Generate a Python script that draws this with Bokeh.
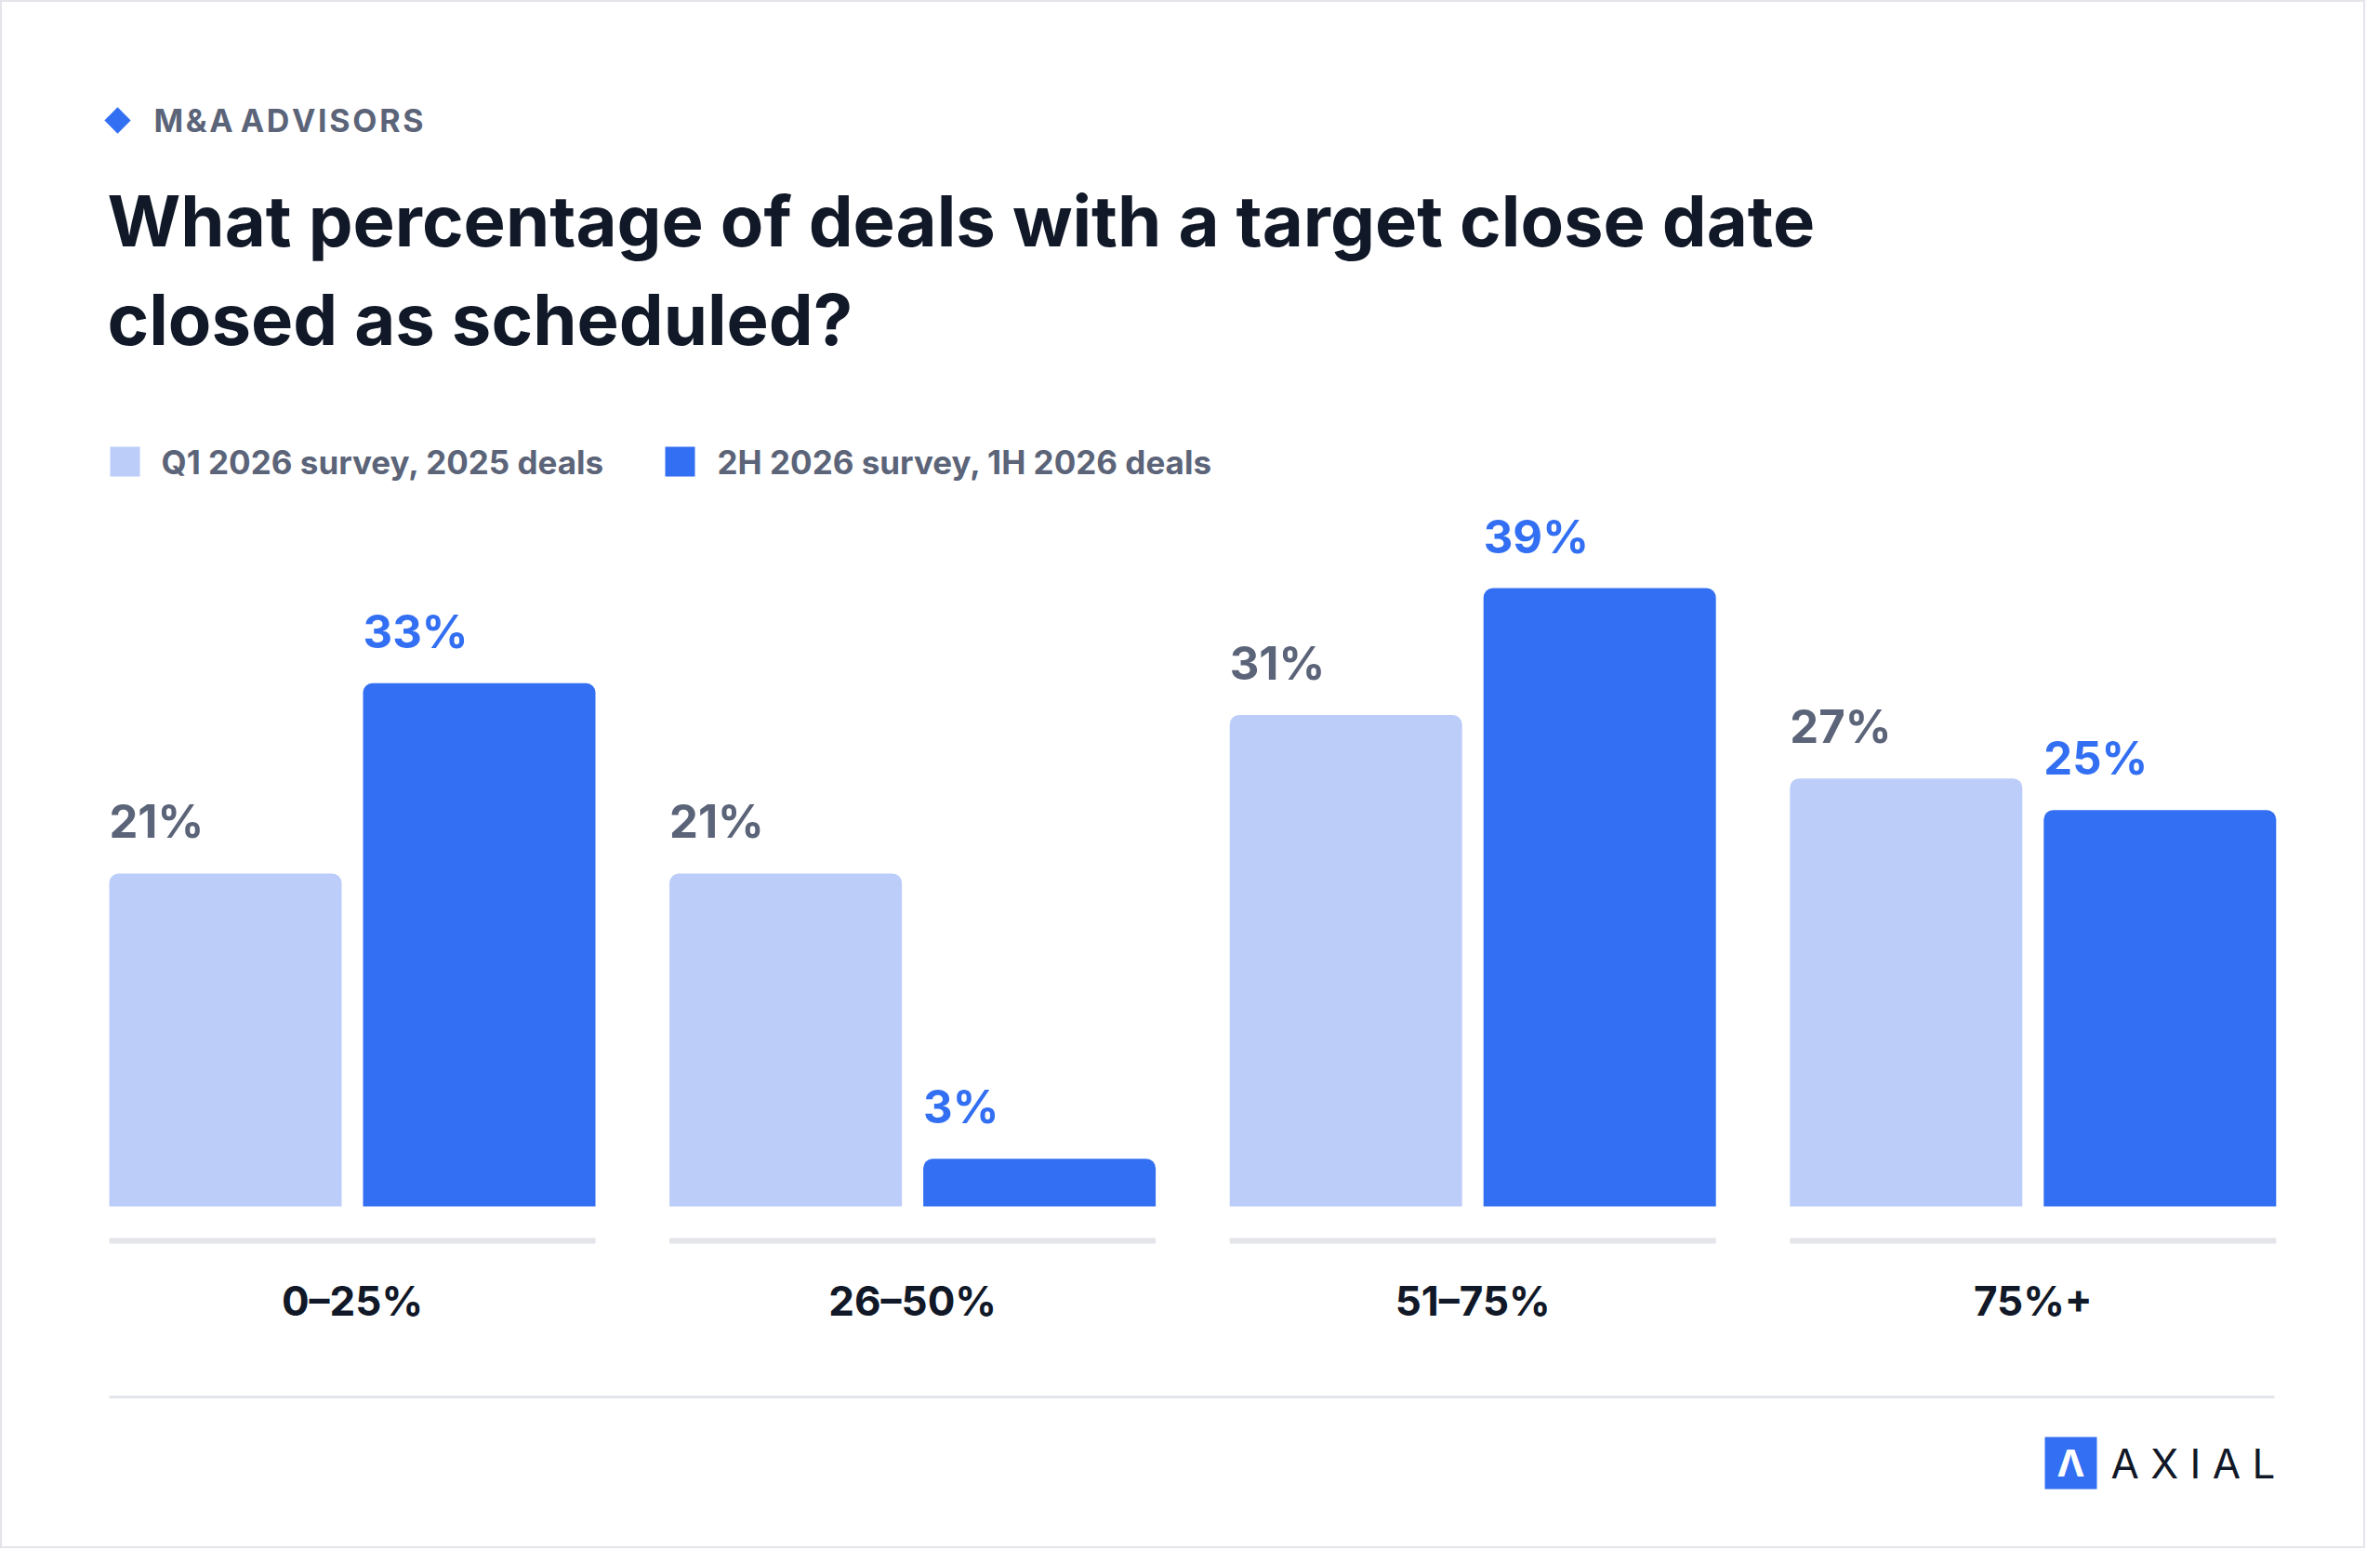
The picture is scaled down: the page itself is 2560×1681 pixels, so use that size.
from bokeh.plotting import figure
from bokeh.models import Range1d, ColumnDataSource
from bokeh.core.properties import value
from bokeh.embed import file_html
from bokeh.resources import INLINE
import math

categories = ["0–25%", "26–50%", "51–75%", "75%+"]
q1_2026 = [21, 21, 31, 27]
h2_2026 = [33, 3, 39, 25]
series_names = ["Q1 2026 survey, 2025 deals", "2H 2026 survey, 1H 2026 deals"]

W, H = 2544, 1665
PX = 17.05
base_from_bottom = 368
y0 = -base_from_bottom / PX
p = figure(width=W, height=H, output_backend="svg", toolbar_location=None,
           x_range=Range1d(0, W), y_range=Range1d(y0, y0 + H / PX),
           min_border=0, border_fill_color="white", background_fill_color="white")
p.axis.visible = False
p.grid.visible = False
p.outline_line_color = "#e3e5ea"
p.outline_line_width = 3

LIGHT, DARK = "#bccdf9", "#336ff2"
GREY, INK = "#5b6478", "#111827"
F = value("Inter")

def ty(ref_y):
    return (1297 - ref_y) / PX

bw = 250
step = 602.6
left0 = 117
x1, x2, gl, gr = [], [], [], []
for i in range(len(categories)):
    L = left0 + i * step
    x1.append(L + bw / 2); x2.append(L + bw + 23 + bw / 2)
    gl.append(L); gr.append(L + 523)

for xs, vals, col, lab_col in [(x1, q1_2026, LIGHT, GREY), (x2, h2_2026, DARK, DARK)]:
    src = ColumnDataSource(dict(x=xs, top=vals, lx=[x - bw / 2 for x in xs],
                                lab=[f"{v}%" for v in vals]))
    p.vbar(x="x", top="top", bottom=0, width=bw, source=src, fill_color=col,
           line_color=None, border_radius=(10, 10, 0, 0))
    p.text(x="lx", y="top", text="lab", source=src, text_color=lab_col,
           text_font=F, text_font_size="49px", text_font_style="bold",
           text_baseline="bottom", y_offset=-26)

p.segment(x0=gl, x1=gr, y0=[ty(1334)] * 4, y1=[ty(1334)] * 4, line_color="#e3e5ea", line_width=6)
p.text(x=[(a + b) / 2 for a, b in zip(gl, gr)], y=[ty(1398)] * 4, text=categories,
       text_color=INK, text_font=F, text_font_size="44px", text_font_style="bold",
       text_align="center", text_baseline="middle")
p.segment(x0=[117], x1=[2446], y0=[ty(1502)], y1=[ty(1502)], line_color="#e3e5ea", line_width=3)

# header
p.scatter(x=[126], y=[ty(129)], marker="square", size=20, angle=math.pi / 4,
          fill_color=DARK, line_color=None)
p.text(x=[165], y=[ty(129)], text=["M\u200aA\u200aA\u200aD".replace("M\u200aA\u200aA\u200aD", "M\u200a&\u200aA\u2009\u200aA\u200aD\u200aV\u200aI\u200aS\u200aO\u200aR\u200aS")],
       text_color=GREY, text_font=F,
       text_font_size="34px", text_font_style="bold", text_baseline="middle")
p.text(x=[115, 115], y=[ty(236), ty(342)],
       text=["What percentage of deals with a target close date", "closed as scheduled?"],
       text_color=INK, text_font=F, text_font_size="76px", text_font_style="bold",
       text_baseline="middle")

# legend
p.scatter(x=[134, 731], y=[ty(496)] * 2, marker="square", size=32,
          fill_color=[LIGHT, DARK], line_color=None)
p.text(x=[173, 771], y=[ty(496)] * 2, text=series_names, text_color=GREY, text_font=F,
       text_font_size="35px", text_font_style="bold", text_baseline="middle")

# logo
p.scatter(x=[2227], y=[ty(1573)], marker="square", size=56, fill_color=DARK, line_color=None)
p.text(x=[2227], y=[ty(1573)], text=["Λ"], text_color="white", text_font=F,
       text_font_size="40px", text_font_style="bold", text_align="center", text_baseline="middle")
p.text(x=[2270], y=[ty(1573)], text=["A X I A L"], text_color=INK, text_font=F,
       text_font_size="44px", text_baseline="middle")

open("out.html", "w").write(file_html(p, INLINE))
